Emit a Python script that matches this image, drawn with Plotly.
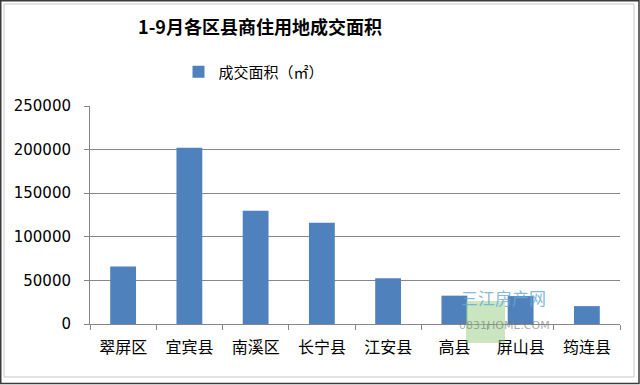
import plotly.graph_objects as go

categories = ["翠屏区", "宜宾县", "南溪区", "长宁县", "江安县", "高县", "屏山县", "筠连县"]
values = [66000, 202000, 130000, 116000, 52500, 32500, 32000, 20500]
series_name = "成交面积（㎡）"
title_text = "1-9月各区县商住用地成交面积"
y_ticks = [0, 50000, 100000, 150000, 200000, 250000]

W, H = 640, 385
L, R, T, B = 90, 20, 106, 61
pw, ph = W - L - R, H - T - B

def px_x(x):
    return (x - L) / pw

def px_y(y):
    return (H - B - y) / ph

fig = go.Figure()
fig.add_trace(go.Bar(
    x=categories, y=values, name=series_name,
    marker=dict(color="#4F81BD", line=dict(width=0)),
    showlegend=True,
))

shapes = [
    dict(type="rect", xref="paper", yref="paper",
         x0=px_x(0.75), x1=px_x(639), y0=px_y(0.75), y1=px_y(383.5),
         line=dict(color="#3a3a3a", width=1.5), fillcolor="rgba(0,0,0,0)", layer="below"),
    dict(type="rect", xref="paper", yref="paper",
         x0=px_x(4), x1=px_x(634), y0=px_y(4), y1=px_y(377),
         line=dict(color="#c8c8c8", width=1), fillcolor="rgba(0,0,0,0)", layer="below"),
    # watermark logo block
    dict(type="rect", xref="paper", yref="paper",
         x0=px_x(466), x1=px_x(505), y0=px_y(301), y1=px_y(343),
         line=dict(width=0), fillcolor="rgba(150,205,130,0.5)", layer="above"),
]

fig.update_layout(
    width=W, height=H,
    margin=dict(l=L, r=R, t=T, b=B, autoexpand=False),
    paper_bgcolor="white", plot_bgcolor="white",
    bargap=0.61,
    font=dict(family="Noto Sans CJK SC, DejaVu Sans", color="#000000"),
    title=dict(text="<b>" + title_text + "</b>", x=px_x(260), xref="paper", xanchor="center",
               y=1 - 28 / H, yanchor="middle",
               font=dict(size=18, family="Noto Sans CJK SC", color="#000000")),
    legend=dict(orientation="h", x=px_x(254), xanchor="center", y=px_y(72), yanchor="middle",
                font=dict(size=15, family="Noto Sans CJK SC"), bgcolor="rgba(0,0,0,0)",
                itemwidth=30),
    xaxis=dict(
        type="category", showline=True, linecolor="#868686", linewidth=1,
        ticks="outside", ticklen=5, tickcolor="#868686", tickson="boundaries",
        showgrid=False, tickfont=dict(size=16, family="Noto Sans CJK SC", color="#000000"),
        ticklabelstandoff=9, range=[-0.5, 7.5], automargin=False,
    ),
    yaxis=dict(
        range=[0, 250000], tickvals=y_ticks, ticktext=[str(v) for v in y_ticks],
        showline=True, linecolor="#868686", linewidth=1,
        ticks="outside", ticklen=5, tickcolor="#868686",
        showgrid=True, gridcolor="#878787", gridwidth=1, zeroline=False,
        tickfont=dict(size=15, family="DejaVu Sans", color="#000000"),
        ticklabelstandoff=10, automargin=False,
    ),
    shapes=shapes,
    annotations=[
        dict(text="三江房产网", xref="paper", yref="paper", x=px_x(548), y=px_y(312),
             showarrow=False, font=dict(size=17, family="Noto Sans CJK SC", color="rgba(100,170,210,0.8)")),
        dict(text="0831HOME.COM", xref="paper", yref="paper", x=px_x(552), y=px_y(334),
             showarrow=False, font=dict(size=11, family="DejaVu Sans", color="rgba(120,120,120,0.65)")),
    ],
)

fig.write_html("out.html", config={"displayModeBar": False},
               post_script="document.body.style.margin='0';document.body.style.padding='0';")
